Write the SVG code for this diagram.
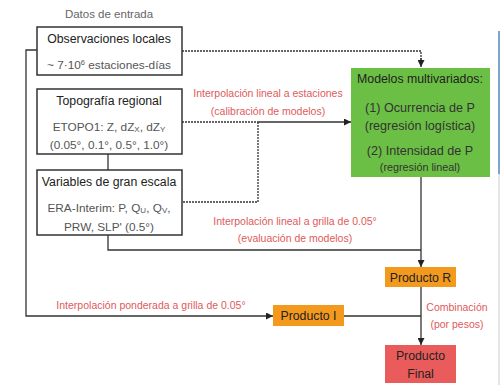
<svg xmlns="http://www.w3.org/2000/svg" width="500" height="385" viewBox="0 0 500 385">
<defs>
<style>
text{font-family:"Liberation Sans",Arial,Helvetica,sans-serif;text-anchor:middle}
.t{font-size:12.3px;fill:#222}
.s{font-size:11.8px;fill:#555}
.g{font-size:12.6px;fill:#333}
.h{font-size:11.5px;fill:#666}
.r{font-size:10.5px;fill:#e05a5a}
.box{fill:#fff;stroke:#333;stroke-width:1.5}
.ln{fill:none;stroke:#333;stroke-width:1.3}
.dot{fill:none;stroke:#333;stroke-width:1.3;stroke-dasharray:2 1}
</style>
<marker id="ah" viewBox="0 0 10 10" refX="10" refY="5" markerWidth="7" markerHeight="7" markerUnits="userSpaceOnUse" orient="auto">
<path d="M0,0 L10,5 L0,10 z" fill="#222"/>
</marker>
</defs>
<rect width="500" height="385" fill="#fff"/>
<line x1="499" y1="31" x2="499" y2="174" stroke="#2a6aa8" stroke-width="1.2"/>
<line x1="499" y1="174" x2="499" y2="385" stroke="#ccc" stroke-width="1"/>

<text class="h" x="109" y="18">Datos de entrada</text>

<g id="connectors">
<polyline class="dot" points="182,51 421,51 421,61"/>
<path d="M421,58 L421,67" class="ln" marker-end="url(#ah)"/>
<line class="dot" x1="182" y1="122" x2="258" y2="122"/>
<line class="ln" x1="258" y1="122" x2="351" y2="122" marker-end="url(#ah)"/>
<polyline class="dot" points="258,122 258,202 182,202"/>
<line class="ln" x1="108" y1="154" x2="108" y2="170"/>
<polyline class="ln" points="108,235 108,250 421,250"/>
<line class="ln" x1="421" y1="177" x2="421" y2="267" marker-end="url(#ah)"/>
<polyline class="ln" points="37,50 26,50 26,316 273,316" marker-end="url(#ah)"/>
<line class="ln" x1="344" y1="316" x2="421" y2="316"/>
<line class="ln" x1="421" y1="287" x2="421" y2="345" marker-end="url(#ah)"/>
<text class="r" x="268" y="97">Interpolación lineal a estaciones</text>
<text class="r" x="268" y="115">(calibración de modelos)</text>
<text class="r" x="295" y="225">Interpolación lineal a grilla de 0.05°</text>
<text class="r" x="295" y="242">(evaluación de modelos)</text>
<text class="r" x="151" y="308.5">Interpolación ponderada a grilla de 0.05°</text>
<text class="r" x="457" y="311">Combinación</text>
<text class="r" x="457" y="328">(por pesos)</text>
</g>

<g id="obs">
<rect class="box" x="37" y="27" width="145" height="48"/>
<text class="t" x="109" y="43">Observaciones locales</text>
<text class="s" x="109" y="69">~ 7·10<tspan font-size="7.5" dy="-4">6</tspan><tspan dy="4"> estaciones-días</tspan></text>
</g>

<g id="topo">
<rect class="box" x="37" y="89" width="145" height="65"/>
<text class="t" x="109" y="105">Topografía regional</text>
<text class="s" x="109" y="131">ETOPO1: Z, dZ<tspan font-size="8" dy="1">X</tspan><tspan dy="-1">, dZ</tspan><tspan font-size="8" dy="1">Y</tspan></text>
<text class="s" x="109" y="149">(0.05°, 0.1°, 0.5°, 1.0°)</text>
</g>

<g id="vars">
<rect class="box" x="37" y="170" width="145" height="65"/>
<text class="t" x="109" y="186">Variables de gran escala</text>
<text class="s" x="109" y="212">ERA-Interim: P, Q<tspan font-size="8" dy="1">U</tspan><tspan dy="-1">, Q</tspan><tspan font-size="8" dy="1">V</tspan><tspan dy="-1">,</tspan></text>
<text class="s" x="109" y="231">PRW, SLP' (0.5°)</text>
</g>

<g id="modelos">
<rect x="351" y="68" width="139" height="109" fill="#6cbf45"/>
<text class="t" x="420" y="83">Modelos multivariados:</text>
<text class="g" x="420" y="111.5">(1) Ocurrencia de P</text>
<text class="g" x="420" y="129.5">(regresión logística)</text>
<text class="g" x="420" y="154.5">(2) Intensidad de P</text>
<text class="g" x="420" y="171" style="font-size:10.8px">(regresión lineal)</text>
</g>

<g id="productoR">
<rect x="385" y="267" width="71" height="20" fill="#f39a1e"/>
<text class="t" x="420.5" y="281.5">Producto R</text>
</g>

<g id="productoI">
<rect x="273" y="305" width="71" height="21" fill="#f39a1e"/>
<text class="t" x="308.5" y="320">Producto I</text>
</g>

<g id="productoFinal">
<rect x="385" y="345" width="71" height="38" fill="#ea5c5c"/>
<text class="t" x="420.5" y="360">Producto</text>
<text class="t" x="420.5" y="378">Final</text>
</g>
</svg>
